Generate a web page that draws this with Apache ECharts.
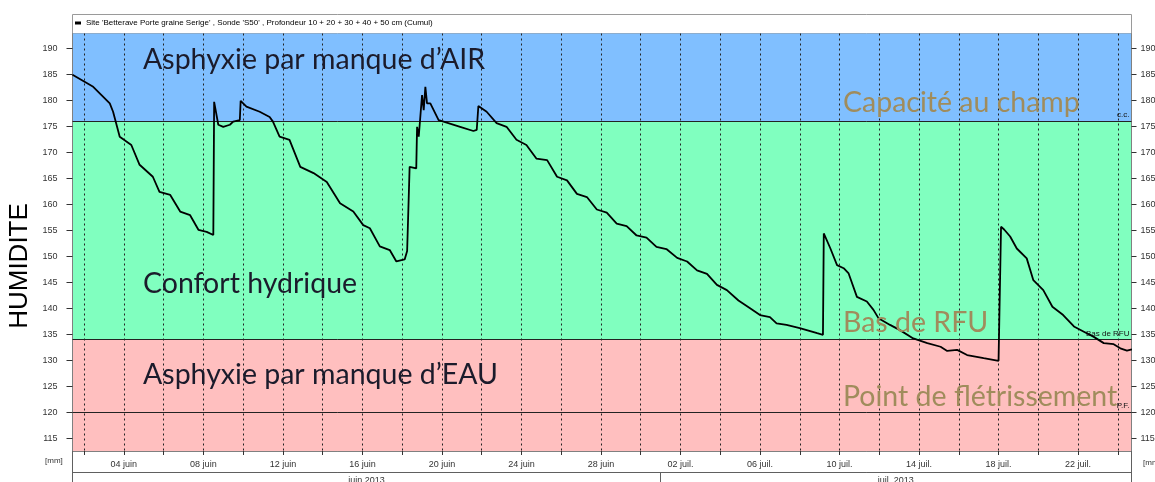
<!DOCTYPE html>
<html>
<head>
<meta charset="utf-8">
<script src="https://cdn.jsdelivr.net/npm/echarts@6/dist/echarts.min.js"></script>
<style>html,body{margin:0;padding:0;background:#fff}#c{width:1155px;height:482px}</style>
</head>
<body>
<div id="c"></div>
<script>
// ---- data ----
const seriesName = "Site 'Betterave Porte graine Serige' , Sonde 'S50' , Profondeur 10 + 20 + 30 + 40 + 50 cm (Cumul)";
const times = [
'2013-06-01 10:00','2013-06-02 11:00','2013-06-03 07:00','2013-06-03 11:00','2013-06-03 19:00','2013-06-04 09:00','2013-06-04 19:00','2013-06-05 11:00','2013-06-05 19:00','2013-06-06 08:00',
'2013-06-06 20:00','2013-06-07 08:00','2013-06-07 18:00','2013-06-08 04:00','2013-06-08 12:00','2013-06-08 13:00','2013-06-08 18:00','2013-06-09 00:00','2013-06-09 08:00','2013-06-09 12:00',
'2013-06-09 20:00','2013-06-09 21:00','2013-06-10 04:00','2013-06-10 20:00','2013-06-11 08:00','2013-06-11 12:00','2013-06-11 20:00','2013-06-12 08:00','2013-06-12 21:00','2013-06-13 13:00',
'2013-06-14 05:00','2013-06-14 21:00','2013-06-15 13:00','2013-06-16 01:00','2013-06-16 09:00','2013-06-16 21:00','2013-06-17 09:00','2013-06-17 17:00','2013-06-18 03:00','2013-06-18 06:00',
'2013-06-18 09:00','2013-06-18 17:00','2013-06-18 18:00','2013-06-18 20:00','2013-06-19 00:00','2013-06-19 02:00','2013-06-19 04:00','2013-06-19 06:00','2013-06-19 10:00','2013-06-19 20:00',
'2013-06-20 02:00','2013-06-20 22:00','2013-06-21 14:00','2013-06-21 18:00','2013-06-21 20:00','2013-06-22 06:00','2013-06-22 18:00','2013-06-23 06:00','2013-06-23 18:00','2013-06-24 06:00',
'2013-06-24 18:00','2013-06-25 07:00','2013-06-25 19:00','2013-06-26 07:00','2013-06-26 19:00','2013-06-27 07:00','2013-06-27 19:00','2013-06-28 07:00','2013-06-28 19:00','2013-06-29 07:00',
'2013-06-29 19:00','2013-06-30 07:00','2013-06-30 19:00','2013-07-01 07:00','2013-07-01 20:00','2013-07-02 08:00','2013-07-02 20:00','2013-07-03 08:00','2013-07-03 20:00','2013-07-04 08:00',
'2013-07-04 22:00','2013-07-05 12:00','2013-07-06 00:00','2013-07-06 12:00','2013-07-06 20:00','2013-07-07 08:00','2013-07-08 00:00','2013-07-08 21:00','2013-07-09 04:00','2013-07-09 05:00',
'2013-07-09 13:00','2013-07-09 21:00','2013-07-10 05:00','2013-07-10 11:00','2013-07-10 21:00','2013-07-11 09:00','2013-07-11 17:00','2013-07-11 23:00','2013-07-12 13:00','2013-07-13 01:00',
'2013-07-13 17:00','2013-07-14 10:00','2013-07-15 02:00','2013-07-15 10:00','2013-07-15 22:00','2013-07-16 10:00','2013-07-17 06:00','2013-07-18 00:00','2013-07-18 03:00','2013-07-18 07:00',
'2013-07-18 14:00','2013-07-18 22:00','2013-07-19 10:00','2013-07-19 18:00','2013-07-20 06:00','2013-07-20 17:00','2013-07-21 06:00','2013-07-21 19:00','2013-07-22 07:00','2013-07-22 19:00',
'2013-07-23 07:00','2013-07-23 19:00','2013-07-24 03:00','2013-07-24 11:00','2013-07-24 17:00'
];
const humidite = [
184.9,182.6,179.4,177.8,173.0,171.4,167.6,165.3,162.4,161.8,
158.6,157.9,155.1,154.7,154.1,179.7,175.3,174.9,175.3,175.9,
176.2,179.9,178.8,177.8,176.8,175.9,173.0,172.4,167.2,166.0,
164.3,160.2,158.6,156.0,155.4,151.9,151.2,149.0,149.4,151.0,
167.2,166.9,174.9,173.0,181.0,178.1,182.6,179.4,179.4,176.2,
175.9,174.9,174.1,174.3,178.9,177.8,175.6,174.9,172.4,171.4,
168.8,168.5,165.3,164.6,162.0,161.4,159.0,158.4,156.3,155.8,
154.0,153.6,151.8,151.4,149.7,149.0,147.3,146.6,144.5,143.5,
141.5,140.0,138.7,138.3,137.1,136.8,136.2,135.2,134.9,154.4,
151.5,148.3,147.7,146.7,142.2,141.3,139.7,138.1,136.8,135.8,
134.2,133.3,132.6,131.8,132.0,131.0,130.4,129.9,155.7,155.1,
153.8,151.5,149.6,145.4,143.5,140.3,138.7,136.5,135.5,134.5,
133.3,133.1,132.3,131.85,132.1
];
const yTicks = [115,120,125,130,135,140,145,150,155,160,165,170,175,180,185,190];
const xTickDates = ['2013-06-02','2013-06-04','2013-06-06','2013-06-08','2013-06-10','2013-06-12','2013-06-14','2013-06-16','2013-06-18','2013-06-20','2013-06-22','2013-06-24','2013-06-26','2013-06-28','2013-06-30','2013-07-02','2013-07-04','2013-07-06','2013-07-08','2013-07-10','2013-07-12','2013-07-14','2013-07-16','2013-07-18','2013-07-20','2013-07-22','2013-07-24'];
const xLabelDates = ['2013-06-04','2013-06-08','2013-06-12','2013-06-16','2013-06-20','2013-06-24','2013-06-28','2013-07-02','2013-07-06','2013-07-10','2013-07-14','2013-07-18','2013-07-22'];
const monthNames = {6:'juin', 7:'juil.'};
const monthLabels = [['2013-06-16 05:00','juin 2013'],['2013-07-12 20:00','juil. 2013']];
const monthBoundary = '2013-07-01 00:00';
const xStart = '2013-06-01 10:00', xEnd = '2013-07-24 16:30';
const yMin = 112.55, yMax = 192.85;
const thresholds = [[176,'c.c.'],[134,'Bas de RFU'],[120,'P.F.']];
const bands = [[176, yMax, '#80bfff'],[134, 176, '#80ffbf'],[yMin, 134, '#ffbfbf']];
const zoneTexts = [
 ['Asphyxie par manque d\u2019AIR', 143, 60, 'dark'],
 ['Confort hydrique', 143, 284, 'dark'],
 ['Asphyxie par manque d\u2019EAU', 143, 375, 'dark'],
 ['Capacité au champ', 843, 103, 'tan'],
 ['Bas de RFU', 843, 323, 'tan'],
 ['Point de flétrissement', 843, 397, 'tan']
];

// ---- helpers ----
function ts(s){
  const m = s.match(/(\d+)-(\d+)-(\d+)(?:\s+(\d+):(\d+))?/);
  return new Date(+m[1], +m[2]-1, +m[3], m[4]?+m[4]:0, m[5]?+m[5]:0).getTime();
}
const lineData = times.map((t,i)=>[ts(t), humidite[i]]);
const FONT = 'Liberation Sans';

const chart = echarts.init(document.getElementById('c'), null, {renderer:'canvas'});
const option = {
  animation:false,
  backgroundColor:'#fff',
  grid:{left:72.5, right:23.5, top:33.5, bottom:31, containLabel:false, outerBoundsMode:'none'},
  legend:{
    data:[seriesName], left:75, top:19, padding:0, icon:'rect', itemWidth:6, itemHeight:3, itemGap:4,
    textStyle:{fontSize:8, color:'#000', fontFamily:FONT}, z:20
  },
  xAxis:[{
    type:'value', min:ts(xStart), max:ts(xEnd), z:3,
    axisLine:{show:true, lineStyle:{color:'#808080', width:1}},
    axisTick:{show:true, length:4, customValues:xTickDates.map(ts), lineStyle:{color:'#333'}},
    splitLine:{show:true, lineStyle:{color:'#222', width:1, type:[2,3]}},
    axisLabel:{customValues:xLabelDates.map(ts), margin:9, fontSize:9, color:'#333', fontFamily:FONT,
      formatter:function(v){const d=new Date(v); const dd=String(d.getDate()).padStart(2,'0'); return dd+' '+monthNames[d.getMonth()+1];}}
  },{
    type:'value', min:ts(xStart), max:ts(xEnd), position:'bottom', offset:21.7,
    axisLine:{show:true, lineStyle:{color:'#606060', width:1}},
    axisTick:{show:true, length:10, customValues:[ts(monthBoundary)], lineStyle:{color:'#606060'}},
    splitLine:{show:false},
    axisLabel:{customValues:monthLabels.map(m=>ts(m[0])), margin:3, fontSize:9, color:'#333', fontFamily:FONT,
      formatter:function(v){for(const m of monthLabels){if(ts(m[0])===v) return m[1];} return '';}}
  }],
  yAxis:[{
    type:'value', min:yMin, max:yMax, position:'left', z:3,
    axisLine:{show:true, lineStyle:{color:'#808080'}},
    axisTick:{show:true, length:6, customValues:yTicks, lineStyle:{color:'#333'}},
    axisLabel:{customValues:yTicks, margin:15, fontSize:9, color:'#333', fontFamily:FONT},
    splitLine:{show:false}
  },{
    type:'value', min:yMin, max:yMax, position:'right', z:3,
    axisLine:{show:true, lineStyle:{color:'#808080'}},
    axisTick:{show:true, length:5, customValues:yTicks, lineStyle:{color:'#333'}},
    axisLabel:{customValues:yTicks, margin:9, fontSize:9, color:'#333', fontFamily:FONT},
    splitLine:{show:false}
  }],
  series:[{
    name:'zones', type:'line', data:[], z:1, silent:true, xAxisIndex:0, yAxisIndex:0,
    markArea:{silent:true, data:bands.map(b=>[{yAxis:b[0], itemStyle:{color:b[2], opacity:1}},{yAxis:b[1]}])},
    markLine:{silent:true, symbol:'none', animation:false,
      data:thresholds.map(t=>({yAxis:t[0], label:{formatter:t[1]}})),
      lineStyle:{color:'#222', type:'solid', width:1},
      label:{position:'insideEndTop', fontSize:8, color:'#111', fontFamily:FONT, distance:[2,2]}
    }
  },{
    name:seriesName, type:'line', data:lineData, z:5, xAxisIndex:0, yAxisIndex:0,
    showSymbol:false, symbol:'none', lineStyle:{color:'#000', width:1.8}, itemStyle:{color:'#000'}
  }],
  graphic:[
    {type:'rect', z:-1, shape:{x:72.5, y:14.5, width:1059, height:19}, style:{fill:'#fff', stroke:'#9a9a9a', lineWidth:1}},
    {type:'line', z:10, shape:{x1:72.5, y1:451, x2:72.5, y2:482}, style:{stroke:'#606060', lineWidth:1}},
    {type:'line', z:10, shape:{x1:1131.5, y1:451, x2:1131.5, y2:482}, style:{stroke:'#606060', lineWidth:1}},
    {type:'text', z:10, x:20, y:266, rotation:Math.PI/2, style:{text:'HUMIDITE', fontSize:26, fontFamily:FONT, fill:'#000', align:'center', verticalAlign:'middle'}},
    {type:'text', z:10, x:45, y:461, style:{text:'[mm]', fontSize:8, fontFamily:FONT, fill:'#333', verticalAlign:'middle'}},
    {type:'text', z:10, x:1143, y:463, style:{text:'[mm]', fontSize:8, fontFamily:FONT, fill:'#333', verticalAlign:'middle'}}
  ].concat(zoneTexts.map(t=>({type:'text', z:10, x:t[1], y:t[2], style:{text:t[0], fontSize:28.5, fontFamily:'Lato', fill:t[3]==='tan'?'#a08c5c':'#1b1b2b', verticalAlign:'middle'}})))
};
chart.setOption(option);
</script>
</body>
</html>
